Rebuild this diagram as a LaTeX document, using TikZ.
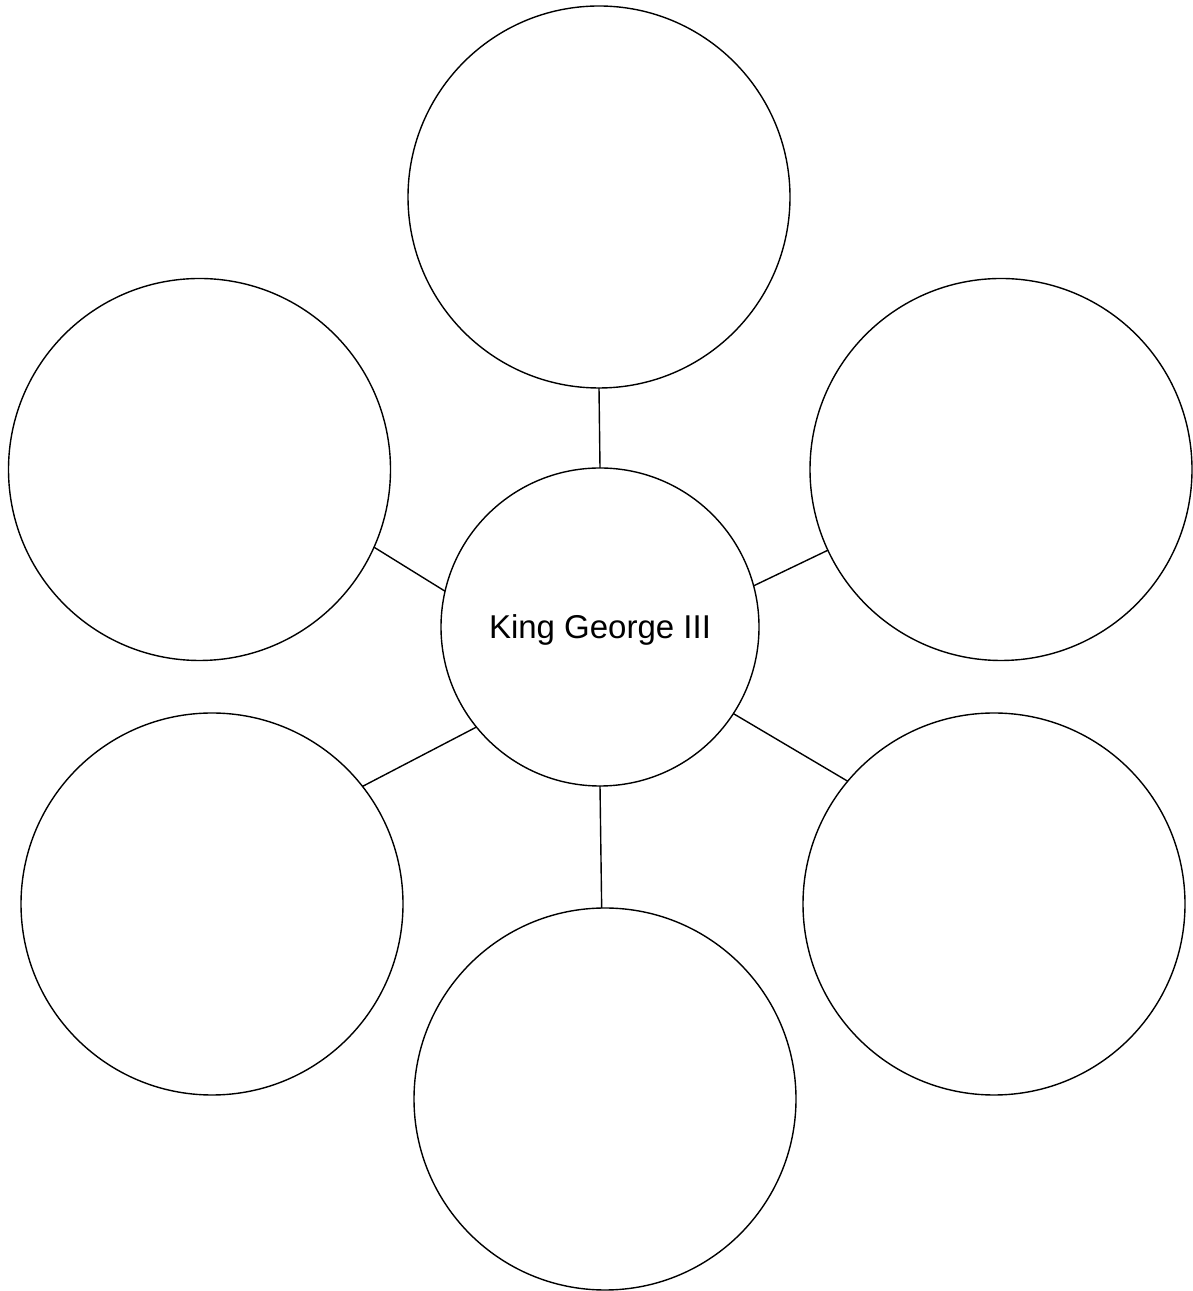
\documentclass[tikz,border=0pt]{standalone}
\usepackage{fontspec}
\setmainfont{Liberation Sans}
\usetikzlibrary{positioning}
\tikzset{
  kg/hub/.style={
    circle,
    draw=black,
    line width=0.7pt,
    fill=white,
    inner sep=0pt,
    outer sep=0pt,
    minimum size=159pt,
    text height=15pt,
    text depth=3.5pt,
    font=\fontsize{16.5}{19}\selectfont
  },
  kg/bubble/.style={
    circle,
    draw=black,
    line width=0.7pt,
    fill=white,
    inner sep=0pt,
    outer sep=0pt,
    minimum size=191pt
  },
  kg/link/.style={draw=black, line width=0.7pt}
}
\begin{document}
\begin{tikzpicture}[x=0.5pt,y=0.5pt]
  \useasboundingbox (0,0) rectangle (1193,1291);
  \node[kg/hub] (hub) at (600,664) {King George III};
  \node[kg/bubble] (top) at (599,1094) {};
  \node[kg/bubble] (ul) at (199.5,821.5) {};
  \node[kg/bubble] (ur) at (1001,821.5) {};
  \node[kg/bubble] (ll) at (212,387) {};
  \node[kg/bubble] (lr) at (994,387) {};
  \node[kg/bubble] (bot) at (605,192) {};
  \draw[kg/link] (top.-90) -- (hub.90);
  \draw[kg/link] (ul.-24.5) -- (hub.167);
  \draw[kg/link] (ur.-155.6) -- (hub.15.7);
  \draw[kg/link] (ll.38) -- (hub.219);
  \draw[kg/link] (lr.140.7) -- (hub.-33);
  \draw[kg/link] (bot.91.8) -- (hub.-90);
\end{tikzpicture}
\end{document}
